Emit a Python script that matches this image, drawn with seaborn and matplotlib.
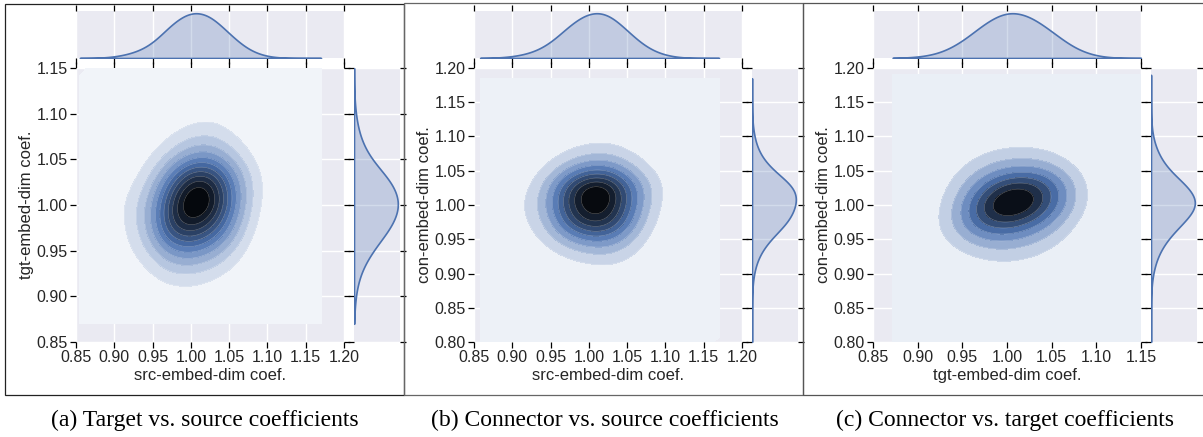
import numpy as np
import pandas as pd
import matplotlib
matplotlib.use("Agg")
import matplotlib.pyplot as plt
from matplotlib.patches import Rectangle
import seaborn as sns
from seaborn.utils import set_hls_values

# bin centres used for every panel (same for x and y)
bin_centres = [0.900, 0.925, 0.950, 0.975, 1.000, 1.025, 1.050, 1.075, 1.100]

# counts
# rows: y = 1.100 (top) ... 0.900 (bottom), cols: x = 0.900 ... 1.100
counts_a = [
    [0, 0, 0, 1, 3, 4, 2, 0, 0],
    [0, 0, 2, 6, 11, 13, 7, 2, 0],
    [0, 2, 7, 18, 32, 34, 20, 7, 1],
    [1, 5, 16, 50, 90, 88, 45, 16, 3],
    [3, 12, 26, 75, 100, 96, 52, 14, 2],
    [2, 10, 26, 72, 80, 64, 36, 9, 1],
    [1, 6, 14, 32, 38, 30, 16, 4, 0],
    [0, 2, 5, 11, 11, 8, 4, 1, 0],
    [0, 0, 1, 2, 3, 2, 1, 0, 0],
]
counts_b = [
    [1, 0, 1, 2, 3, 4, 2, 0, 1],
    [0, 1, 3, 8, 13, 14, 8, 3, 1],
    [0, 3, 11, 26, 40, 40, 24, 9, 2],
    [2, 7, 26, 66, 100, 96, 52, 22, 5],
    [3, 12, 28, 70, 84, 84, 52, 18, 3],
    [2, 8, 22, 58, 80, 76, 42, 12, 2],
    [1, 4, 11, 24, 34, 36, 20, 6, 1],
    [0, 1, 3, 7, 11, 13, 9, 2, 0],
    [1, 0, 1, 1, 2, 3, 2, 0, 1],
]
counts_c = [
    [1, 0, 0, 1, 2, 2, 1, 0, 1],
    [0, 0, 3, 8, 12, 12, 8, 2, 0],
    [0, 2, 9, 20, 26, 28, 22, 8, 1],
    [0, 4, 16, 40, 70, 75, 48, 16, 2],
    [1, 6, 24, 66, 100, 82, 46, 16, 2],
    [1, 7, 26, 54, 58, 45, 26, 8, 1],
    [1, 5, 14, 24, 26, 20, 12, 4, 0],
    [0, 1, 5, 9, 11, 9, 5, 1, 0],
    [1, 0, 1, 2, 3, 2, 1, 0, 1],
]

x_labels = ["src-embed-dim coef.", "src-embed-dim coef.", "tgt-embed-dim coef."]
y_labels = ["tgt-embed-dim coef.", "con-embed-dim coef.", "con-embed-dim coef."]
captions = ["(a) Target vs. source coefficients",
            "(b) Connector vs. source coefficients",
            "(c) Connector vs. target coefficients"]

x_ticks = [[0.85, 0.90, 0.95, 1.00, 1.05, 1.10, 1.15, 1.20],
           [0.85, 0.90, 0.95, 1.00, 1.05, 1.10, 1.15, 1.20],
           [0.85, 0.90, 0.95, 1.00, 1.05, 1.10, 1.15]]
y_ticks = [[0.85, 0.90, 0.95, 1.00, 1.05, 1.10, 1.15],
           [0.80, 0.85, 0.90, 0.95, 1.00, 1.05, 1.10, 1.15, 1.20],
           [0.80, 0.85, 0.90, 0.95, 1.00, 1.05, 1.10, 1.15, 1.20]]

# support of the density estimate in each panel
x_clip = [(0.855, 1.17), (0.858, 1.17), (0.872, 1.15)]
y_clip = [(0.87, 1.15), (0.80, 1.185), (0.80, 1.19)]
n_levels = [13, 11, 9]

W, H = 1203, 437
BASE = "#4C72B0"
BW = 0.5

sns.set_theme(style="darkgrid", rc={
    "xtick.bottom": True, "xtick.top": True,
    "ytick.left": True, "ytick.right": True,
    "xtick.direction": "out", "ytick.direction": "out",
    "xtick.major.size": 4.5, "ytick.major.size": 4.5,
    "xtick.major.width": 0.9, "ytick.major.width": 0.9,
    "xtick.major.pad": 1.5, "ytick.major.pad": 1.5,
    "xtick.color": "black", "ytick.color": "black",
    "xtick.labelcolor": ".15", "ytick.labelcolor": ".15",
    "xtick.labelsize": 11.5, "ytick.labelsize": 11.5,
    "axes.labelsize": 12, "axes.labelpad": 2,
})
plt.rcParams["font.family"] = ["Liberation Sans", "DejaVu Sans"]

# white -> blue -> black ramp, like the old jointplot
rgb = matplotlib.colors.to_rgb(BASE)
ramp = [set_hls_values(rgb, l=l) for l in np.linspace(1, 0, 12)]
cmap = sns.blend_palette(ramp, as_cmap=True)


def px_rect(left, top, right, bottom):
    return [left / W, 1 - bottom / H, (right - left) / W, (bottom - top) / H]


fig = plt.figure(figsize=(W / 100, H / 100), dpi=100)

panel_left = [76, 474, 873]
main_w = 268
all_counts = [counts_a, counts_b, counts_c]

xx, yy = np.meshgrid(bin_centres, bin_centres[::-1])

for i in range(3):
    l = panel_left[i]
    ax = fig.add_axes(px_rect(l, 68, l + main_w, 342))
    ax_top = fig.add_axes(px_rect(l, 11, l + main_w, 58))
    ax_right = fig.add_axes(px_rect(l + main_w + 10, 68, l + main_w + 56, 342))

    df = pd.DataFrame({"x": xx.ravel(), "y": yy.ravel(),
                       "w": np.array(all_counts[i], dtype=float).ravel()})
    df = df[df["w"] > 0]
    clip2d = (x_clip[i], y_clip[i])

    sns.kdeplot(data=df, x="x", y="y", weights="w", fill=True, thresh=0,
                levels=n_levels[i], cmap=cmap, bw_method=BW, cut=8,
                clip=clip2d, ax=ax)
    sns.kdeplot(data=df, x="x", y="y", weights="w", fill=False,
                levels=list(np.linspace(0, 1, n_levels[i])[1:-1]),
                colors="white", linewidths=0.4, alpha=0.35,
                bw_method=BW, cut=8, clip=clip2d, ax=ax)

    sns.kdeplot(data=df, x="x", weights="w", fill=True, color=BASE,
                linewidth=1.2, bw_method=BW, cut=8, clip=x_clip[i], ax=ax_top)
    sns.kdeplot(data=df, y="y", weights="w", fill=True, color=BASE,
                linewidth=1.2, bw_method=BW, cut=8, clip=y_clip[i], ax=ax_right)

    ax.set_xlim(x_ticks[i][0], x_ticks[i][-1])
    ax.set_ylim(y_ticks[i][0], y_ticks[i][-1])
    ax.set_xticks(x_ticks[i])
    ax.set_yticks(y_ticks[i])
    ax.set_xticklabels([f"{v:.2f}" for v in x_ticks[i]])
    ax.set_yticklabels([f"{v:.2f}" for v in y_ticks[i]])
    ax.set_xlabel(x_labels[i])
    ax.set_ylabel(y_labels[i])

    ax_top.set_xlim(ax.get_xlim())
    ax_top.set_xticks(x_ticks[i])
    ax_top.set_ylim(bottom=0)
    ax_top.tick_params(axis="x", labelbottom=False, labeltop=False)
    ax_top.tick_params(axis="y", left=False, right=False, labelleft=False)
    ax_top.yaxis.grid(False)
    ax_top.set_xlabel("")
    ax_top.set_ylabel("")

    ax_right.set_ylim(ax.get_ylim())
    ax_right.set_yticks(y_ticks[i])
    ax_right.set_xlim(left=0)
    ax_right.tick_params(axis="y", labelleft=False, labelright=False)
    ax_right.tick_params(axis="x", bottom=False, top=False, labelbottom=False)
    ax_right.xaxis.grid(False)
    ax_right.set_xlabel("")
    ax_right.set_ylabel("")

    for a in (ax, ax_top, ax_right):
        for s in a.spines.values():
            s.set_visible(False)

# frames around the sub-figures
box_specs = [(5, 4, 404, 395, "#222222"), (404, 3, 803, 395, "#666666"),
             (803, 3, 1210, 395, "#555555")]
for x0, y0, x1, y1, c in box_specs:
    fig.add_artist(Rectangle((x0 / W, 1 - y1 / H), (x1 - x0) / W, (y1 - y0) / H,
                             transform=fig.transFigure, fill=False,
                             edgecolor=c, linewidth=0.9))

caption_x = [205, 605, 1005]
for cx, text in zip(caption_x, captions):
    fig.text(cx / W, 1 - 420 / H, text, ha="center", va="center",
             family=["Liberation Serif", "DejaVu Serif"], size=17, color="black")

fig.savefig("out.png", dpi=100)
plt.close(fig)
